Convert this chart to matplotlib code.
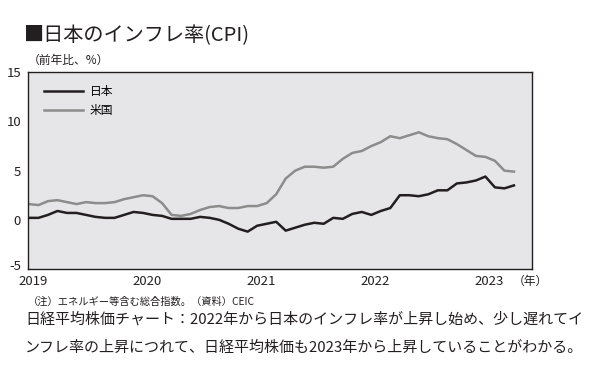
import matplotlib
matplotlib.use("Agg")
import matplotlib.pyplot as plt
import matplotlib.transforms as mtransforms

plt.rcParams['font.family'] = ['Noto Sans CJK JP', 'DejaVu Sans']

# Monthly YoY CPI, Jan 2019 - Apr 2023
japan = [0.2, 0.2, 0.5, 0.9, 0.7, 0.7, 0.5, 0.3, 0.2, 0.2, 0.5, 0.8,
         0.7, 0.5, 0.4, 0.1, 0.1, 0.1, 0.3, 0.2, 0.0, -0.4, -0.9, -1.2,
         -0.6, -0.4, -0.2, -1.1, -0.8, -0.5, -0.3, -0.4, 0.2, 0.1, 0.6, 0.8,
         0.5, 0.9, 1.2, 2.5, 2.5, 2.4, 2.6, 3.0, 3.0, 3.7, 3.8, 4.0,
         4.4, 3.3, 3.2, 3.5]
usa = [1.6, 1.5, 1.9, 2.0, 1.8, 1.6, 1.8, 1.7, 1.7, 1.8, 2.1, 2.3,
       2.5, 2.4, 1.7, 0.5, 0.4, 0.6, 1.0, 1.3, 1.4, 1.2, 1.2, 1.4,
       1.4, 1.7, 2.6, 4.2, 5.0, 5.4, 5.4, 5.3, 5.4, 6.2, 6.8, 7.0,
       7.5, 7.9, 8.5, 8.3, 8.6, 8.9, 8.5, 8.3, 8.2, 7.7, 7.1, 6.5,
       6.4, 6.0, 5.0, 4.9]
year_labels = ['2019', '2020', '2021', '2022', '2023']
y_ticks = [-5, 0, 5, 10, 15]
series_names = ['日本', '米国']

months = list(range(len(japan)))

fig = plt.figure(figsize=(5.89, 3.76), dpi=100)
ax = fig.add_axes([28/589, 1-269/376, 504/589, (269-72.3)/376])
ax.set_facecolor('#e6e6e8')

ax.plot(months, japan, color='#231f20', lw=1.8, label=series_names[0])
ax.plot(months, usa, color='#8c8c8c', lw=1.8, label=series_names[1])

ax.set_xlim(-0.1, 52.9)
ax.set_ylim(-5, 15)
ax.set_yticks(y_ticks)
ax.set_yticklabels([str(v) for v in y_ticks])
ax.set_xticks([i*12 + 0.4 for i in range(len(year_labels))])
ax.set_xticklabels(year_labels)
ax.tick_params(length=0, labelsize=9.5, colors='#231f20')
ax.tick_params(axis='x', pad=4)
ax.tick_params(axis='y', pad=5)
# lift the bottom y label slightly so it sits above the first year label
ylabs = ax.get_yticklabels()
ylabs[0].set_transform(ylabs[0].get_transform() +
                       mtransforms.ScaledTranslation(0, 3/72, fig.dpi_scale_trans))
for s in ax.spines.values():
    s.set_color('#231f20')
    s.set_linewidth(1.0)

leg = ax.legend(loc='upper left', bbox_to_anchor=(0.01, 0.99), frameon=False,
                fontsize=8.5, handlelength=3.3, handletextpad=0.6, labelspacing=0.5)

fig.text(24/589, 1-36/376, '■日本のインフレ率(CPI)', fontsize=14.5, va='center', ha='left', color='#231f20')
fig.text(28/589, 1-60/376, '（前年比、%）', fontsize=8.5, va='center', ha='left', color='#231f20')
fig.text(530/589, 1-281/376, '（年）', fontsize=8.5, va='center', ha='center', color='#231f20')
fig.text(28/589, 1-301.5/376, '（注）エネルギー等含む総合指数。（資料）CEIC', fontsize=7.4, va='center', ha='left', color='#231f20')
fig.text(25/589, 1-319.5/376, '日経平均株価チャート：2022年から日本のインフレ率が上昇し始め、少し遅れてイ',
         fontsize=10.8, va='center', ha='left', color='#231f20')
fig.text(25/589, 1-348/376, 'ンフレ率の上昇につれて、日経平均株価も2023年から上昇していることがわかる。',
         fontsize=10.8, va='center', ha='left', color='#231f20')

fig.savefig('out.png', dpi=100)
